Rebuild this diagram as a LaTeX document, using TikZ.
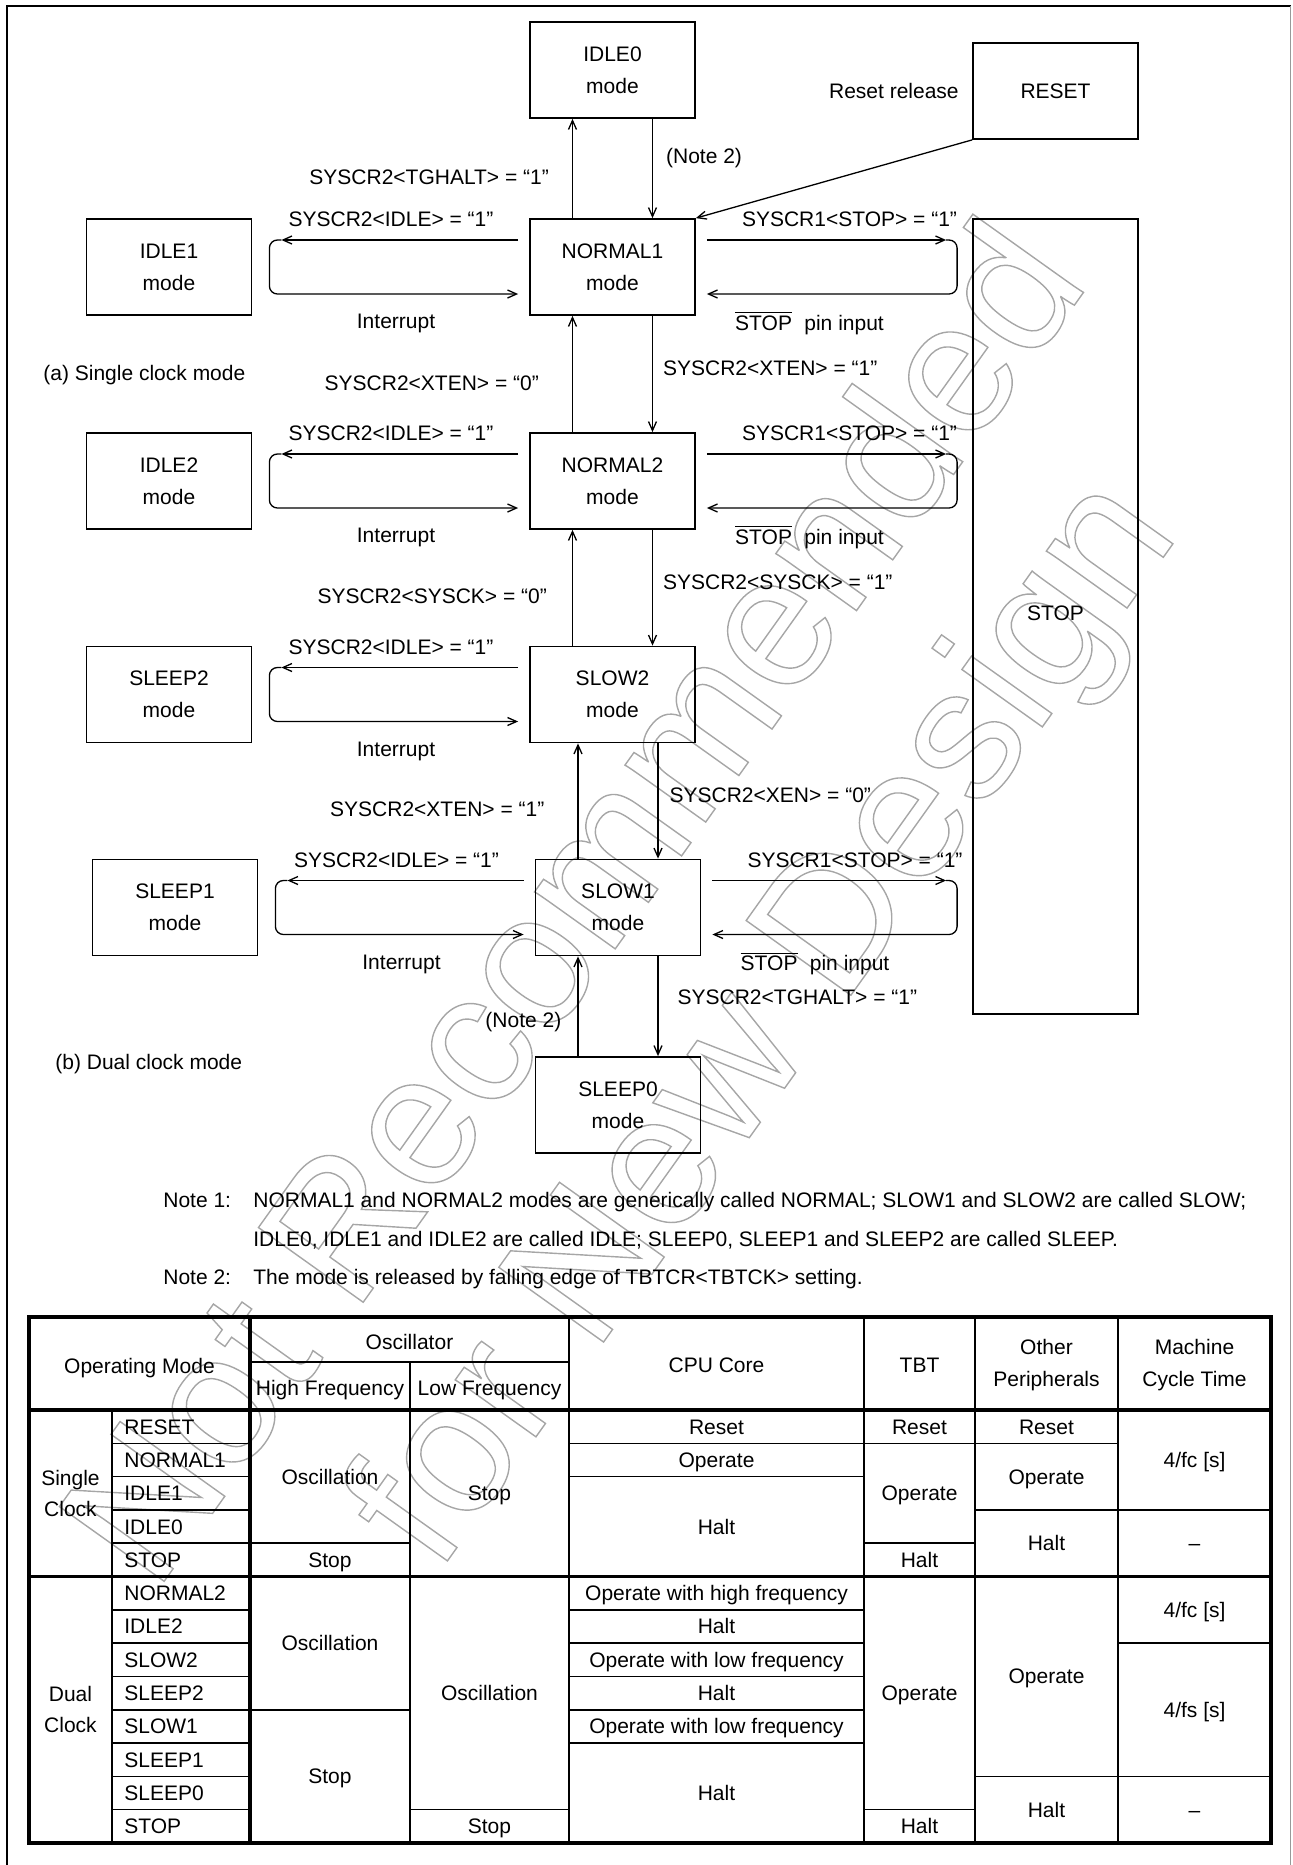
\documentclass[tikz,border=0pt]{standalone}
\usepackage{fontspec}
\setmainfont{Liberation Sans}
\usetikzlibrary{arrows.meta, positioning}

% hollow letters for the watermark
\newcommand{\hollow}[1]{\special{pdf:literal direct 1 Tr 0.7 w}#1\special{pdf:literal direct 0 Tr}}
\newcommand{\stoppin}{$\overline{\mbox{STOP}}$\hspace{6.2pt}pin input}

\tikzset{
  modebox/.style={draw, line width=0.9pt, minimum width=82.5pt, minimum height=48pt,
    inner sep=0pt, align=center, font=\fontsize{10.5}{16}\selectfont},
  lbl/.style={inner sep=0pt, text height=7.5pt, text depth=0pt},
  twoline/.style={inner sep=0pt, align=center, font=\fontsize{10.5}{16}\selectfont},
  flow/.style={line width=0.65pt, -{Straight Barb[length=4.5pt,width=4pt]}},
  tline/.style={line width=0.8pt},
  wmark/.style={rotate=54.5, anchor=base, inner sep=0pt, text=black!35,
    font=\fontsize{93.5}{100}\selectfont}
}

\begin{document}
\begin{tikzpicture}[x=0.5pt, y=-0.5pt, font=\fontsize{10.5}{12.6}\selectfont]
  \useasboundingbox (0,0) rectangle (1292,1865);

  % watermark
  \node[wmark] (wmA) at (623,938) {\hollow{Not Recommended}};
  \node[wmark] (wmB) at (809,1054) {\hollow{for New Design}};

  % page frame
  \draw[line width=0.6pt] (7,1865) -- (7,6) -- (1290.5,6);
  \draw[line width=0.6pt, black!40] (1290.5,6) -- (1290.5,1865);

  % mode boxes
  \node[modebox] (idleZ) at (612.5,70) {IDLE0\\mode};
  \node[modebox] (reset) at (1055.5,91) {RESET};
  \node[modebox] (normalA) at (612.5,267) {NORMAL1\\mode};
  \node[modebox] (idleA) at (169,267) {IDLE1\\mode};
  \node[modebox] (normalB) at (612.5,481) {NORMAL2\\mode};
  \node[modebox] (idleB) at (169,481) {IDLE2\\mode};
  \node[modebox] (slowB) at (612.5,694.5) {SLOW2\\mode};
  \node[modebox] (sleepB) at (169,694.5) {SLEEP2\\mode};
  \node[modebox] (slowA) at (618,907.5) {SLOW1\\mode};
  \node[modebox] (sleepA) at (175,907.5) {SLEEP1\\mode};
  \node[modebox] (sleepZ) at (618,1105) {SLEEP0\\mode};
  \node[modebox, minimum height=397.5pt] (stopbox) at (1055.5,616.5) {\raisebox{3.75pt}{STOP}};

  \node[lbl, left=6.5pt of reset] (resetrel) {Reset release};
  \draw[flow] (reset.south west) -- (normalA.north east);

  % idle / sleep loops
  \foreach \m/\s in {normalA/idleA, normalB/idleB, slowB/sleepB, slowA/sleepA}{
    \draw[flow] ([shift={(-11,-27)}]\m.west) -- ([shift={(29,-27)}]\s.east);
    \draw[flow, rounded corners=4pt] ([shift={(29,-27)}]\s.east) -- ([shift={(17,-27)}]\s.east)
      -- ([shift={(17,27)}]\s.east) -- ([shift={(-11,27)}]\m.west);
    \node[lbl] (\m-idle) at ([shift={(-221.5,-48)}]\m.center) {SYSCR2<IDLE> = “1”};
    \node[lbl] (\m-int) at ([shift={(-216.5,54)}]\m.center) {Interrupt};
  }

  % stop loops
  \foreach \m in {normalA, normalB, slowA}{
    \coordinate (\m-r) at (\m.east -| stopbox.west);
    \draw[flow] ([shift={(11,-27)}]\m.east) -- ([shift={(-26,-27)}]\m-r);
    \draw[flow, rounded corners=4pt] ([shift={(-26,-27)}]\m-r) -- ([shift={(-15,-27)}]\m-r)
      -- ([shift={(-15,27)}]\m-r) -- ([shift={(11,27)}]\m.east);
    \node[lbl] (\m-stop) at ([shift={(237,-48)}]\m.center) {SYSCR1<STOP> = “1”};
    \node[lbl] (\m-pin) at ([shift={(197,55.5)}]\m.center) {\stoppin};
  }

  % vertical transitions
  \draw[flow] ([xshift=-20pt]normalA.north) -- ([xshift=-20pt]idleZ.south)
    node[lbl, pos=0.416, left=11.5pt] (tghaltA) {SYSCR2<TGHALT> = “1”};
  \draw[flow] ([xshift=20pt]idleZ.south) -- ([xshift=20pt]normalA.north)
    node[lbl, pos=0.376, right=6.5pt] (noteA) {(Note 2)};
  \draw[flow] ([xshift=-20pt]normalB.north) -- ([xshift=-20pt]normalA.south)
    node[lbl, pos=0.424, left=16.5pt] (xtenA) {SYSCR2<XTEN> = “0”};
  \draw[flow] ([xshift=20pt]normalA.south) -- ([xshift=20pt]normalB.north)
    node[lbl, pos=0.449, right=5pt] (xtenB) {SYSCR2<XTEN> = “1”};
  \draw[flow] ([xshift=-20pt]slowB.north) -- ([xshift=-20pt]normalB.south)
    node[lbl, pos=0.432, left=12.5pt] (sysckA) {SYSCR2<SYSCK> = “0”};
  \draw[flow] ([xshift=20pt]normalB.south) -- ([xshift=20pt]slowB.north)
    node[lbl, pos=0.449, right=5pt] (sysckB) {SYSCR2<SYSCK> = “1”};
  \draw[flow] ([xshift=-20pt]slowA.north) -- ([xshift=-20pt]slowA.north |- slowB.south)
    node[lbl, pos=0.427, left=16.5pt] (xtenC) {SYSCR2<XTEN> = “1”};
  \draw[flow] ([xshift=20pt]slowA.north |- slowB.south) -- ([xshift=20pt]slowA.north)
    node[lbl, pos=0.444, right=5.5pt] (xen) {SYSCR2<XEN> = “0”};
  \draw[flow] ([xshift=-20pt]sleepZ.north) -- ([xshift=-20pt]slowA.south)
    node[lbl, pos=0.366, left=8pt] (noteB) {(Note 2)};
  \draw[flow] ([xshift=20pt]slowA.south) -- ([xshift=20pt]sleepZ.north)
    node[lbl, pos=0.406, right=9.5pt] (tghaltB) {SYSCR2<TGHALT> = “1”};

  \node[lbl, anchor=west] (singlemode) at (43,373) {(a) Single clock mode};
  \node[lbl, anchor=west] (dualmode) at (55,1062) {(b) Dual clock mode};

  % notes
  \node[lbl, anchor=base west] (noteOne) at (163,1207.5) {Note 1:};
  \node[lbl, anchor=base west] (noteOneA) at (253,1207.5) {NORMAL1 and NORMAL2 modes are generically called NORMAL; SLOW1 and SLOW2 are called SLOW;};
  \node[lbl, anchor=base west] (noteOneB) at (253,1246.5) {IDLE0, IDLE1 and IDLE2 are called IDLE; SLEEP0, SLEEP1 and SLEEP2 are called SLEEP.};
  \node[lbl, anchor=base west] (noteTwo) at (163,1284.5) {Note 2:};
  \node[lbl, anchor=base west] (noteTwoA) at (253,1284.5) {The mode is released by falling edge of TBTCR<TBTCK> setting.};

  % table rules
  \foreach \xa/\xb/\ks in {112/250/{1,2,3,4,6,7,8,9,10,11,12}, 250/410/{4,9}, 410/569/{12},
      569/864/{1,2,6,7,8,9,10}, 864/975/{1,4,12}, 975/1118/{1,3,11}, 1118/1271/{3,7,11}}
    \foreach \k in \ks
      \draw[tline] (\xa,{1410+33.3*\k}) -- (\xb,{1410+33.3*\k});
  \draw[tline] (250,1362) -- (569,1362);
  \draw[tline] (410,1362) -- (410,1843);
  \draw[tline] (112,1410) -- (112,1843);
  \foreach \x in {569,864,975,1118} \draw[tline] (\x,1317) -- (\x,1843);
  \draw[line width=1.2pt] (29,1576.5) -- (1271,1576.5);
  \draw[line width=2.3pt] (29,1410) -- (1271,1410);
  \draw[line width=2.3pt] (250,1317) -- (250,1843);
  \draw[line width=2.3pt] (29,1317) rectangle (1271,1843);

  % table head
  \node[lbl] (hMode) at (139.5,1366) {Operating Mode};
  \node[lbl] (hOsc) at (409.5,1342) {Oscillator};
  \node[lbl] (hHigh) at (330,1388) {High Frequency};
  \node[lbl] (hLow) at (489.5,1388) {Low Frequency};
  \node[lbl] (hCpu) at (716.5,1365) {CPU Core};
  \node[lbl] (hTbt) at (919.5,1365) {TBT};
  \node[twoline] (hPer) at (1046.5,1365) {Other\\Peripherals};
  \node[twoline] (hCyc) at (1194.5,1365) {Machine\\Cycle Time};

  % table body
  \node[twoline, font=\fontsize{10.5}{15.5}\selectfont] (gSingle) at (70.5,1493.1) {Single\\Clock};
  \node[twoline, font=\fontsize{10.5}{15.5}\selectfont] (gDual) at (70.5,1709.7) {Dual\\Clock};
  \foreach \t [count=\k from 0] in {RESET, NORMAL1, IDLE1, IDLE0, STOP, NORMAL2, IDLE2, SLOW2, SLEEP2, SLOW1, SLEEP1, SLEEP0, STOP}
    \node[lbl, anchor=west] (mode\k) at (124,{1410+33.3*(\k+0.5)}) {\t};
  \foreach \x/\ka/\kb/\t [count=\i] in {
      330/0/4/Oscillation, 330/4/5/Stop, 330/5/9/Oscillation, 330/9/13/Stop,
      489.5/0/5/Stop, 489.5/5/12/Oscillation, 489.5/12/13/Stop,
      716.5/0/1/Reset, 716.5/1/2/Operate, 716.5/2/5/Halt,
      716.5/5/6/Operate with high frequency, 716.5/6/7/Halt, 716.5/7/8/Operate with low frequency,
      716.5/8/9/Halt, 716.5/9/10/Operate with low frequency, 716.5/10/13/Halt,
      919.5/0/1/Reset, 919.5/1/4/Operate, 919.5/4/5/Halt, 919.5/5/12/Operate, 919.5/12/13/Halt,
      1046.5/0/1/Reset, 1046.5/1/3/Operate, 1046.5/3/5/Halt, 1046.5/5/11/Operate, 1046.5/11/13/Halt,
      1194.5/0/3/{4/fc [s]}, 1194.5/3/5/–, 1194.5/5/7/{4/fc [s]}, 1194.5/7/11/{4/fs [s]}, 1194.5/11/13/–}
    \node[lbl] (cell\i) at (\x,{1410+33.3*(\ka+\kb)/2}) {\t};
\end{tikzpicture}
\end{document}
